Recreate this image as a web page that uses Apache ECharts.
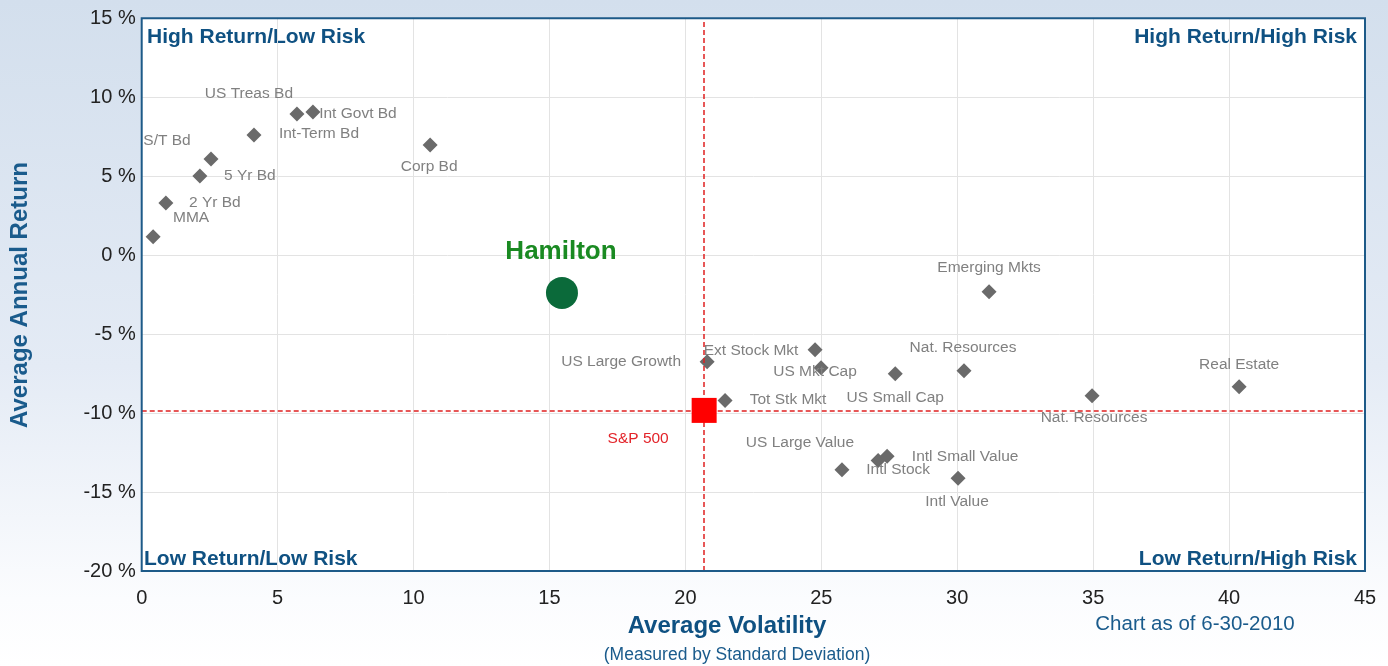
<!DOCTYPE html>
<html>
<head>
<meta charset="utf-8">
<script src="https://cdn.jsdelivr.net/npm/echarts@6/dist/echarts.min.js"></script>
<style>
html,body{margin:0;padding:0;background:#fff;}
#c{width:1388px;height:666px;}
</style>
</head>
<body>
<div id="c"></div>
<script>
// ---- data ----
const assetNames = ["MMA","2 Yr Bd","5 Yr Bd","S/T Bd","Int-Term Bd","US Treas Bd","Int Govt Bd","Corp Bd",
  "Emerging Mkts","Ext Stock Mkt","US Large Growth","US Mkt Cap","US Small Cap","Nat. Resources","Real Estate",
  "Nat. Resources ","Tot Stk Mkt","US Large Value","Intl Stock","Intl Small Value","Intl Value"];
const assetVolatility = [0.42,0.89,2.14,2.55,4.13,5.71,6.30,10.61,
  31.17,24.77,20.80,24.99,27.72,30.25,40.37,
  34.96,21.46,25.76,27.09,27.42,30.03];
const assetReturn = [1.16,3.31,5.02,6.09,7.61,8.94,9.07,6.98,
  -2.32,-5.99,-6.75,-7.13,-7.51,-7.32,-8.33,
  -8.90,-9.20,-13.59,-13.00,-12.74,-14.13];
const hamiltonName = "Hamilton";
const hamiltonPoint = [15.46, -2.39];
const spName = "S&P 500";
const spPoint = [20.69, -9.83];
const xTicks = [0,5,10,15,20,25,30,35,40,45];
const yTicks = [-20,-15,-10,-5,0,5,10,15];

// ---- label layout (offsets from point centre, px) ----
const labelOffsets = {
  "MMA":[38,-19],"2 Yr Bd":[49,0],"5 Yr Bd":[50,0],"S/T Bd":[-44,-18],"Int-Term Bd":[65,-1],
  "US Treas Bd":[-48,-20],"Int Govt Bd":[45,2],"Corp Bd":[-1,22],"Emerging Mkts":[0,-24],
  "Ext Stock Mkt":[-64,1],"US Large Growth":[-86,0],"US Mkt Cap":[-6,4],"US Small Cap":[0,24],
  "Nat. Resources":[-1,-23],"Real Estate":[0,-22],"Nat. Resources ":[2,22],"Tot Stk Mkt":[63,-1],
  "US Large Value":[-42,-27],"Intl Stock":[20,9],"Intl Small Value":[78,0],"Intl Value":[-1,23]
};

const assetData = assetNames.map((n,i)=>({
  name:n, value:[assetVolatility[i], assetReturn[i]],
  label:{offset: labelOffsets[n] || [0,0]}
}));

const BLUE = '#0f5182';
const FONT = 'Arial, Liberation Sans';
const G = {left:141.7, right:23, top:18.3, bottom:95};
const chart = echarts.init(document.getElementById('c'));
chart.setOption({
  backgroundColor:{type:'linear',x:0,y:0,x2:0,y2:1,colorStops:[
    {offset:0,color:'#d3dfed'},{offset:0.55,color:'#e4ebf5'},{offset:0.9,color:'#fbfcfe'},{offset:1,color:'#ffffff'}]},
  animation:false,
  grid:{left:G.left,right:G.right,top:G.top,bottom:G.bottom,show:true,backgroundColor:'#ffffff',borderColor:'#1a5683',borderWidth:0},
  xAxis:{type:'value',min:xTicks[0],max:xTicks[xTicks.length-1],interval:5,
    axisLine:{show:false},axisTick:{show:false},
    axisLabel:{color:'#222',fontSize:20,fontFamily:FONT,margin:17},
    splitLine:{show:true,lineStyle:{color:'#e3e3e3',width:1}}},
  yAxis:{type:'value',min:yTicks[0],max:yTicks[yTicks.length-1],interval:5,
    axisLine:{show:false},axisTick:{show:false},
    axisLabel:{color:'#222',fontSize:20,fontFamily:FONT,margin:6,formatter:'{value} %'},
    splitLine:{show:true,lineStyle:{color:'#e3e3e3',width:1}}},
  graphic:[
    {type:'rect',z:100,silent:true,shape:{x:G.left,y:G.top,width:1388-G.left-G.right,height:666-G.top-G.bottom},
      style:{fill:'none',stroke:'#1d5a88',lineWidth:2}},
    {type:'text',x:147,y:37,style:{text:'High Return/Low Risk',fill:BLUE,font:'bold 21px '+FONT,align:'left',verticalAlign:'middle'}},
    {type:'text',x:1357,y:37,style:{text:'High Return/High Risk',fill:BLUE,font:'bold 21px '+FONT,align:'right',verticalAlign:'middle'}},
    {type:'text',x:144,y:559,style:{text:'Low Return/Low Risk',fill:BLUE,font:'bold 21px '+FONT,align:'left',verticalAlign:'middle'}},
    {type:'text',x:1357,y:559,style:{text:'Low Return/High Risk',fill:BLUE,font:'bold 21px '+FONT,align:'right',verticalAlign:'middle'}},
    {type:'text',x:20,y:295,rotation:Math.PI/2,style:{text:'Average Annual Return',fill:'#1a5b8c',font:'bold 24px '+FONT,align:'center',verticalAlign:'middle'}},
    {type:'text',x:727,y:626,style:{text:'Average Volatility',fill:BLUE,font:'bold 24px '+FONT,align:'center',verticalAlign:'middle'}},
    {type:'text',x:737,y:655,style:{text:'(Measured by Standard Deviation)',fill:'#1a5b8c',font:'17.5px '+FONT,align:'center',verticalAlign:'middle'}},
    {type:'text',x:1195,y:624,style:{text:'Chart as of 6-30-2010',fill:'#1a5b8c',font:'20.5px '+FONT,align:'center',verticalAlign:'middle'}}
  ],
  series:[
    {type:'scatter',name:'assets',data:assetData,symbol:'diamond',symbolSize:15,
      itemStyle:{color:'#6a6a6a',opacity:1},
      label:{show:true,position:'inside',formatter:p=>p.name.trim(),color:'#808080',fontSize:15.5,fontFamily:FONT},
      z:3},
    {type:'scatter',name:hamiltonName,data:[{name:hamiltonName,value:hamiltonPoint}],symbol:'circle',symbolSize:32,
      itemStyle:{color:'#0b6a3a',opacity:1},
      label:{show:true,position:'inside',offset:[-1,-41],formatter:'{b}',color:'#1a8a22',fontSize:26,fontWeight:'bold',fontFamily:FONT},
      z:4},
    {type:'scatter',name:spName,data:[{name:spName,value:spPoint}],symbol:'rect',symbolSize:25,
      itemStyle:{color:'#ff0000',opacity:1},
      label:{show:true,position:'inside',offset:[-66,28],formatter:'{b}',color:'#e3242a',fontSize:15.5,fontFamily:FONT},
      markLine:{silent:true,symbol:'none',label:{show:false},
        lineStyle:{color:'#e02020',type:[5,3],width:1.5,opacity:1},
        data:[{xAxis:spPoint[0]},{yAxis:spPoint[1]}]},
      z:5}
  ]
});
</script>
</body>
</html>
